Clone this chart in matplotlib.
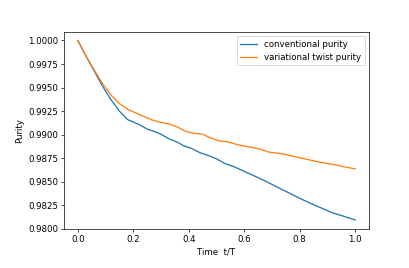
import matplotlib
matplotlib.use("Agg")
import matplotlib.pyplot as plt

t_conv = [0.0, 0.03, 0.06, 0.09, 0.12, 0.15, 0.18, 0.20, 0.22, 0.25, 0.28, 0.30, 0.33, 0.36, 0.38,
          0.41, 0.44, 0.47, 0.50, 0.53, 0.56, 0.59, 0.62, 0.65, 0.68, 0.71, 0.74, 0.77, 0.80,
          0.83, 0.86, 0.89, 0.92, 0.95, 0.98, 1.0]
p_conv = [1.0, 0.9983, 0.9967, 0.9951, 0.9937, 0.9925, 0.9916, 0.99135, 0.9911, 0.9906, 0.9903,
          0.99005, 0.98955, 0.9892, 0.98885, 0.98855, 0.9881, 0.9878, 0.98745, 0.98695, 0.98665,
          0.98625, 0.98585, 0.98545, 0.98503, 0.98458, 0.98414, 0.98370, 0.98326, 0.98285,
          0.98245, 0.98208, 0.98170, 0.98143, 0.98115, 0.98096]

t_var = [0.0, 0.03, 0.06, 0.09, 0.12, 0.15, 0.18, 0.21, 0.24, 0.27, 0.30, 0.33, 0.36, 0.39, 0.42,
         0.45, 0.48, 0.51, 0.54, 0.57, 0.60, 0.63, 0.66, 0.69, 0.72, 0.75, 0.78, 0.81, 0.84,
         0.87, 0.90, 0.93, 0.96, 1.0]
p_var = [1.0, 0.9983, 0.9968, 0.9954, 0.9942, 0.9933, 0.9927, 0.9923, 0.9919, 0.99155, 0.9913,
         0.99115, 0.9908, 0.99035, 0.99015, 0.99005, 0.98965, 0.98935, 0.98925, 0.98900,
         0.98880, 0.98865, 0.98845, 0.98815, 0.98805, 0.98790, 0.98770, 0.98750, 0.98730,
         0.98710, 0.98695, 0.98680, 0.98660, 0.98638]

yticks = [0.98, 0.9825, 0.985, 0.9875, 0.99, 0.9925, 0.995, 0.9975, 1.0]
ytick_labels = ["0.9800", "0.9825", "0.9850", "0.9875", "0.9900", "0.9925", "0.9950", "0.9975", "1.0000"]
xticks = [0.0, 0.2, 0.4, 0.6, 0.8, 1.0]

DPI = 62
fig = plt.figure(figsize=(409/DPI, 268/DPI), dpi=DPI)
ax = fig.add_axes([64/409, 1-229/268, (369-64)/409, (229-32)/268])
ax.plot(t_conv, p_conv, color="#1f77b4", label="conventional purity")
ax.plot(t_var, p_var, color="#ff7f0e", label="variational twist purity")
ax.set_ylim(0.98, 1.0009)
ax.set_yticks(yticks)
ax.set_yticklabels(ytick_labels)
ax.set_xticks(xticks)
ax.set_xlabel("Time  t/T")
ax.set_ylabel("Purity")
ax.legend(loc="upper right", fancybox=False)
fig.savefig("out.png", dpi=DPI)
